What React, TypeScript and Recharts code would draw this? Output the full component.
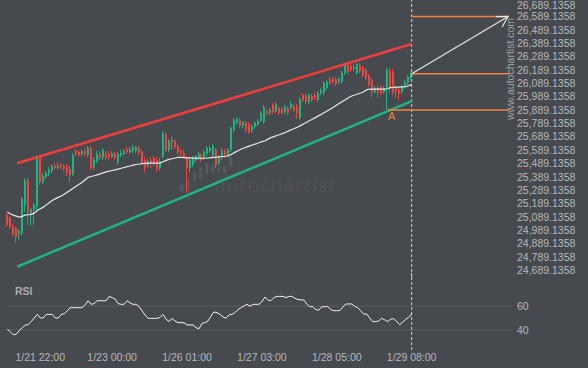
import React from "react";
import { ComposedChart, Bar, Line, XAxis, YAxis, ReferenceLine, ReferenceDot } from "recharts";

// palette
const BG = "#46494e";
const UP = "#22b383";
const DOWN = "#f0453f";
const RED_LINE = "#f23d3d";
const GREEN_LINE = "#1fb386";
const ORANGE = "#f0843c";
const TEXT = "#b6b9bd";
const FONT = "'Liberation Sans', Arial, sans-serif";

// candles, one per bar
const opens = [
  25104, 25081, 25022, 25007, 24962, 24969, 25178, 25365, 25118, 25141,
  25170, 25537, 25350, 25388, 25410, 25433, 25470, 25455, 25477, 25470,
  25470, 25447, 25410, 25582, 25575, 25560, 25582, 25552, 25605, 25462,
  25507, 25560, 25537, 25567, 25560, 25537, 25560, 25500, 25552, 25560,
  25597, 25575, 25582, 25582, 25605, 25575, 25515, 25477, 25515, 25530,
  25515, 25455, 25545, 25709, 25590, 25649, 25657, 25620, 25582, 25567,
  25530, 25455, 25477, 25515, 25530, 25552, 25530, 25560, 25582, 25552,
  25590, 25492, 25530, 25582, 25552, 25590, 25739, 25792, 25814, 25769,
  25792, 25784, 25732, 25762, 25777, 25807, 25799, 25881, 25866, 25926,
  25881, 25904, 25896, 25874, 25904, 25904, 25919, 25911, 25829, 26001,
  25994, 25949, 25994, 26001, 25964, 26016, 26016, 26054, 26121, 26121,
  26121, 26099, 26099, 26166, 26226, 26218, 26196, 26166, 26226, 26203,
  26188, 26144, 26114, 26024, 26054, 26061, 26024, 26054, 26188, 26173,
  26054, 26039, 26024, 26061, 26091, 26129,
];
const highs = [
  25118, 25096, 25036, 25014, 24999, 25238, 25380, 25380, 25156, 25193,
  25552, 25552, 25418, 25433, 25462, 25485, 25492, 25492, 25492, 25485,
  25485, 25470, 25567, 25597, 25590, 25590, 25597, 25620, 25620, 25537,
  25582, 25582, 25605, 25582, 25582, 25582, 25575, 25575, 25590, 25597,
  25612, 25612, 25627, 25620, 25620, 25590, 25537, 25522, 25537, 25545,
  25537, 25530, 25732, 25724, 25672, 25687, 25672, 25635, 25597, 25590,
  25545, 25530, 25545, 25552, 25575, 25567, 25590, 25620, 25620, 25635,
  25605, 25552, 25605, 25597, 25605, 25769, 25829, 25836, 25829, 25807,
  25807, 25799, 25784, 25807, 25821, 25881, 25926, 25896, 25904, 25941,
  25949, 25919, 25911, 25926, 25919, 25956, 25934, 25934, 25986, 26016,
  26009, 26016, 26009, 26016, 26031, 26054, 26106, 26114, 26136, 26136,
  26136, 26136, 26181, 26241, 26241, 26233, 26233, 26241, 26241, 26218,
  26203, 26158, 26129, 26069, 26069, 26076, 26069, 26203, 26203, 26196,
  26069, 26054, 26076, 26114, 26151, 26173,
];
const lows = [
  25014, 24999, 24947, 24894, 24917, 24954, 25126, 25029, 25022, 25029,
  25141, 25328, 25335, 25373, 25395, 25418, 25440, 25447, 25447, 25433,
  25395, 25350, 25395, 25545, 25537, 25545, 25545, 25537, 25440, 25440,
  25492, 25515, 25515, 25515, 25515, 25530, 25515, 25477, 25537, 25552,
  25560, 25560, 25567, 25567, 25552, 25477, 25425, 25455, 25455, 25470,
  25425, 25440, 25530, 25575, 25575, 25590, 25597, 25560, 25545, 25530,
  25268, 25425, 25462, 25500, 25515, 25500, 25515, 25545, 25567, 25537,
  25455, 25477, 25515, 25530, 25545, 25575, 25724, 25777, 25754, 25754,
  25717, 25709, 25717, 25747, 25769, 25799, 25784, 25851, 25851, 25859,
  25866, 25851, 25859, 25859, 25851, 25889, 25874, 25821, 25814, 25949,
  25934, 25934, 25949, 25964, 25949, 26001, 26001, 26039, 26076, 26084,
  26069, 26084, 26084, 26151, 26158, 26173, 26181, 26151, 26166, 26136,
  26114, 26061, 25986, 26009, 25979, 26001, 26009, 25889, 26024, 26001,
  25979, 25964, 26009, 26046, 26076, 26114,
];
const closes = [
  25029, 25014, 24962, 24939, 24984, 25223, 25358, 25118, 25148, 25178,
  25537, 25350, 25395, 25418, 25440, 25470, 25455, 25470, 25462, 25447,
  25418, 25403, 25552, 25560, 25552, 25582, 25560, 25605, 25455, 25515,
  25560, 25530, 25590, 25530, 25537, 25567, 25530, 25560, 25567, 25582,
  25575, 25597, 25612, 25612, 25567, 25492, 25462, 25507, 25485, 25492,
  25447, 25507, 25717, 25590, 25657, 25664, 25612, 25575, 25567, 25537,
  25455, 25515, 25530, 25545, 25560, 25515, 25575, 25605, 25605, 25620,
  25477, 25537, 25582, 25552, 25590, 25754, 25814, 25821, 25769, 25799,
  25739, 25724, 25769, 25792, 25807, 25866, 25911, 25859, 25889, 25874,
  25934, 25866, 25866, 25911, 25866, 25934, 25889, 25866, 25971, 25964,
  25949, 26001, 25964, 25979, 26016, 26039, 26091, 26099, 26091, 26099,
  26084, 26121, 26166, 26226, 26173, 26188, 26211, 26233, 26181, 26151,
  26129, 26076, 26024, 26054, 26016, 26016, 26054, 26188, 26054, 26024,
  26024, 26009, 26061, 26099, 26136, 26158,
];
const maValues = [
  25125, 25112, 25102, 25095, 25087, 25093, 25104, 25105, 25108, 25117,
  25137, 25150, 25162, 25179, 25195, 25211, 25224, 25235, 25246, 25259,
  25274, 25289, 25304, 25319, 25334, 25349, 25367, 25385, 25391, 25397,
  25403, 25411, 25418, 25426, 25431, 25436, 25441, 25447, 25453, 25459,
  25465, 25470, 25476, 25481, 25485, 25487, 25490, 25491, 25491, 25492,
  25492, 25492, 25502, 25512, 25519, 25524, 25530, 25535, 25534, 25533,
  25531, 25530, 25529, 25529, 25528, 25528, 25528, 25530, 25532, 25534,
  25536, 25539, 25541, 25543, 25548, 25560, 25572, 25584, 25595, 25605,
  25613, 25621, 25629, 25635, 25644, 25652, 25657, 25671, 25682, 25690,
  25698, 25706, 25714, 25723, 25733, 25743, 25753, 25762, 25774, 25786,
  25798, 25810, 25822, 25834, 25847, 25859, 25872, 25885, 25897, 25911,
  25926, 25941, 25955, 25968, 25983, 25994, 26001, 26009, 26016, 26025,
  26040, 26046, 26046, 26046, 26046, 26046, 26046, 26048, 26057, 26058,
  26060, 26061, 26062, 26063, 26071, 26081,
];
const rsiValues = [
  40.6, 38.5, 36, 36.5, 39.5, 42, 44, 44.5, 47, 50,
  53, 50, 50, 53, 53, 53, 50, 50, 53, 53.5,
  56, 58.6, 58.6, 58.6, 58.6, 58.6, 61, 64.4, 61.4, 62,
  64.4, 64.4, 64.4, 64.4, 68, 67, 65.8, 62, 61.4, 61.4,
  64.4, 62.5, 61.4, 61.4, 59.5, 56, 52.5, 49.7, 49.7, 49.7,
  49.7, 50.5, 53, 49, 47, 49.7, 47.5, 46.1, 46.1, 46.1,
  44.2, 44.2, 44.2, 42, 41, 45.5, 46.1, 47.5, 51.5, 55,
  54.5, 53, 51, 49.7, 52.5, 53, 54.5, 57, 58.6, 60,
  61.4, 59.7, 61.4, 61.4, 61.4, 63.5, 67.5, 65, 64.4, 67,
  68, 68, 68, 67, 68, 68, 66.5, 65.5, 65, 65,
  61.5, 59.4, 59.4, 57, 56.5, 59.4, 59.4, 59.4, 57, 56.1,
  56.1, 56.1, 59, 61.7, 61.7, 61.7, 59.6, 58.6, 56, 53.3,
  53.3, 50, 47, 47, 47.5, 49.7, 48.5, 47, 49, 49.5,
  47, 44.5, 46.5, 48.9, 50.5, 53.3,
];

// axes
const timeLabels = ["1/21 22:00", "1/23 00:00", "1/26 01:00", "1/27 03:00", "1/28 05:00", "1/29 08:00"];
const timeTickIdx = [11, 35, 60, 85, 110, 135];
const priceTicks = [
  26689.1358, 26589.1358, 26489.1358, 26389.1358, 26289.1358, 26189.1358, 26089.1358,
  25989.1358, 25889.1358, 25789.1358, 25689.1358, 25589.1358, 25489.1358, 25389.1358,
  25289.1358, 25189.1358, 25089.1358, 24989.1358, 24889.1358, 24789.1358, 24689.1358,
];
const rsiTicks = [40, 60];

// pattern: channel, target, breakout point
const channelIdx = [3.3, 135];
const upperChannel = [25490, 26383];
const lowerChannel = [24716, 25956];
const arrowIdx = [135, 167.2];
const arrowPrice = [26160, 26589.1358];
const levelStartIdx = [135, 135, 127];
const levelPrice = [26589.1358, 26160, 25889.1358];
const pointA = { idx: 128.3, price: 25889.1358 };

const X_DOMAIN = [-2.44, 167.5];
const lastIdx = closes.length - 1;

const mainRows = closes.map((c, i) => ({
  i,
  range: [lows[i], highs[i]],
  open: opens[i],
  close: c,
  ma: maValues[i],
}));
const rsiRows = rsiValues.map((v, i) => ({ i, rsi: v }));

const fmtPrice = (v: number) =>
  v.toLocaleString("en-US", { minimumFractionDigits: 4, maximumFractionDigits: 4 });

function PriceTick(props: any) {
  const { x, y, payload } = props;
  return (
    <text x={x} y={Math.max(y, 5.5)} dy="0.355em" textAnchor="start" fill={TEXT} fontSize={10.5} fontFamily={FONT}>
      {fmtPrice(payload.value)}
    </text>
  );
}

function Candle(props: any) {
  const { x, y, width, height, payload } = props;
  if (!payload || x == null || y == null) return null;
  const top = Math.min(y, y + height);
  const h = Math.abs(height);
  const [lo, hi] = payload.range;
  const k = hi === lo ? 0 : h / (hi - lo);
  const yO = top + (hi - payload.open) * k;
  const yC = top + (hi - payload.close) * k;
  const color = payload.close >= payload.open ? UP : DOWN;
  const left = Math.round(x + width / 2 - 1);
  return (
    <g>
      <rect x={left} y={top} width={1} height={h} fill={color} />
      <rect x={left} y={Math.min(yO, yC)} width={2} height={Math.max(1, Math.abs(yC - yO))} fill={color} />
    </g>
  );
}

function Arrow(props: any) {
  const { x1, y1, x2, y2 } = props;
  const a = Math.atan2(y2 - y1, x2 - x1);
  const L = 12;
  const s = 0.52;
  const p1 = `${x2 - L * Math.cos(a - s)},${y2 - L * Math.sin(a - s)}`;
  const p2 = `${x2 - L * Math.cos(a + s)},${y2 - L * Math.sin(a + s)}`;
  return (
    <g stroke="#e4e4e4" strokeWidth={1.2} fill="none">
      <line x1={x1} y1={y1} x2={x2} y2={y2} />
      <polyline points={`${p1} ${x2},${y2} ${p2}`} />
    </g>
  );
}

function Watermark() {
  const bars = [
    [180, 184, 7], [186, 178, 13], [193, 172, 10], [199, 167, 12], [205, 163, 11],
    [211, 165, 8], [217, 167, 6], [223, 165, 8], [229, 157, 10],
  ];
  return (
    <svg width={588} height={368} style={{ position: "absolute", left: 0, top: 0 }}>
      {bars.map(([x, y, h], n) => (
        <rect key={n} x={x} y={y} width={3.5} height={h} rx={1.2} fill="#55585d" />
      ))}
      <text x={276} y={192} textAnchor="middle" fontSize={19} fontFamily="'Open Sans', sans-serif"
        fontWeight={300} letterSpacing={1.6} fill="#55585d">autochartist</text>
    </svg>
  );
}

export default function App() {
  const tickStyle = { fill: TEXT, fontSize: 10.5, fontFamily: FONT };
  return (
    <div style={{ position: "absolute", left: 0, top: 0, width: 588, height: 368, background: BG, overflow: "hidden" }}>
      <Watermark />
      <div style={{ position: "absolute", left: 0, top: 0 }}>
        <ComposedChart width={588} height={277} data={mainRows} margin={{ top: 0, right: 0, bottom: 0, left: 0 }}>
          <XAxis type="number" dataKey="i" domain={X_DOMAIN} hide allowDataOverflow />
          <YAxis orientation="right" width={79} domain={[24639.1, 26712.4]} ticks={priceTicks} interval={0}
            tick={<PriceTick />} tickLine={false} axisLine={false} allowDataOverflow />
          <ReferenceLine x={lastIdx} stroke="#cfd0d2" strokeDasharray="3 2" />
          <ReferenceLine segment={[{ x: channelIdx[0], y: upperChannel[0] }, { x: channelIdx[1], y: upperChannel[1] }]}
            stroke={RED_LINE} strokeWidth={2.5} />
          <ReferenceLine segment={[{ x: channelIdx[0], y: lowerChannel[0] }, { x: channelIdx[1], y: lowerChannel[1] }]}
            stroke={GREEN_LINE} strokeWidth={2.5} />
          {levelPrice.map((p, n) => (
            <ReferenceLine key={n} segment={[{ x: levelStartIdx[n], y: p }, { x: X_DOMAIN[1], y: p }]}
              stroke={ORANGE} strokeWidth={1.5} />
          ))}
          <Bar dataKey="range" barSize={2} shape={<Candle />} activeBar={false} isAnimationActive={false} />
          <Line dataKey="ma" stroke="#e8e8e8" strokeWidth={1.2} dot={false} activeDot={false} isAnimationActive={false} />
          <ReferenceLine segment={[{ x: arrowIdx[0], y: arrowPrice[0] }, { x: arrowIdx[1], y: arrowPrice[1] }]}
            shape={(p: any) => <Arrow {...p} />} />
          <ReferenceDot x={pointA.idx} y={pointA.price} r={0}
            shape={(p: any) => (
              <text x={p.cx} y={p.cy + 10} textAnchor="middle" fontSize={11} fontFamily={FONT} fill={ORANGE}>A</text>
            )} />
        </ComposedChart>
      </div>
      <div style={{ position: "absolute", left: 0, top: 273 }}>
        <ComposedChart width={588} height={95} data={rsiRows} margin={{ top: 0, right: 0, bottom: 0, left: 0 }}>
          <XAxis type="number" dataKey="i" domain={X_DOMAIN} ticks={timeTickIdx} interval={0} height={18}
            tickFormatter={(v: number) => timeLabels[timeTickIdx.indexOf(v)]} tick={tickStyle}
            tickLine={false} axisLine={false} tickSize={0} tickMargin={4} allowDataOverflow />
          <YAxis orientation="right" width={79} domain={[23.33, 87.5]} ticks={rsiTicks} interval={0}
            tick={tickStyle} tickLine={false} axisLine={false} allowDataOverflow />
          {rsiTicks.map((t) => (
            <ReferenceLine key={t} segment={[{ x: 0, y: t }, { x: 168.8, y: t }]} stroke="#5c5f63" ifOverflow="visible" />
          ))}
          <ReferenceLine x={lastIdx} stroke="#cfd0d2" strokeDasharray="3 2" />
          <Line dataKey="rsi" stroke="#f2f2f2" strokeWidth={1} dot={false} activeDot={false} isAnimationActive={false} />
        </ComposedChart>
      </div>
      <div style={{ position: "absolute", left: 15, top: 285, color: "#a9acb0", fontSize: 10.5, fontWeight: "bold", fontFamily: FONT }}>
        RSI
      </div>
      <div style={{
        position: "absolute", left: 454.7, top: 62.5, width: 110, height: 12, lineHeight: "12px",
        textAlign: "center", transform: "rotate(-90deg)", color: "#9fa2a6", fontSize: 10.5, fontFamily: FONT,
      }}>
        www.autochartist.com
      </div>
    </div>
  );
}
